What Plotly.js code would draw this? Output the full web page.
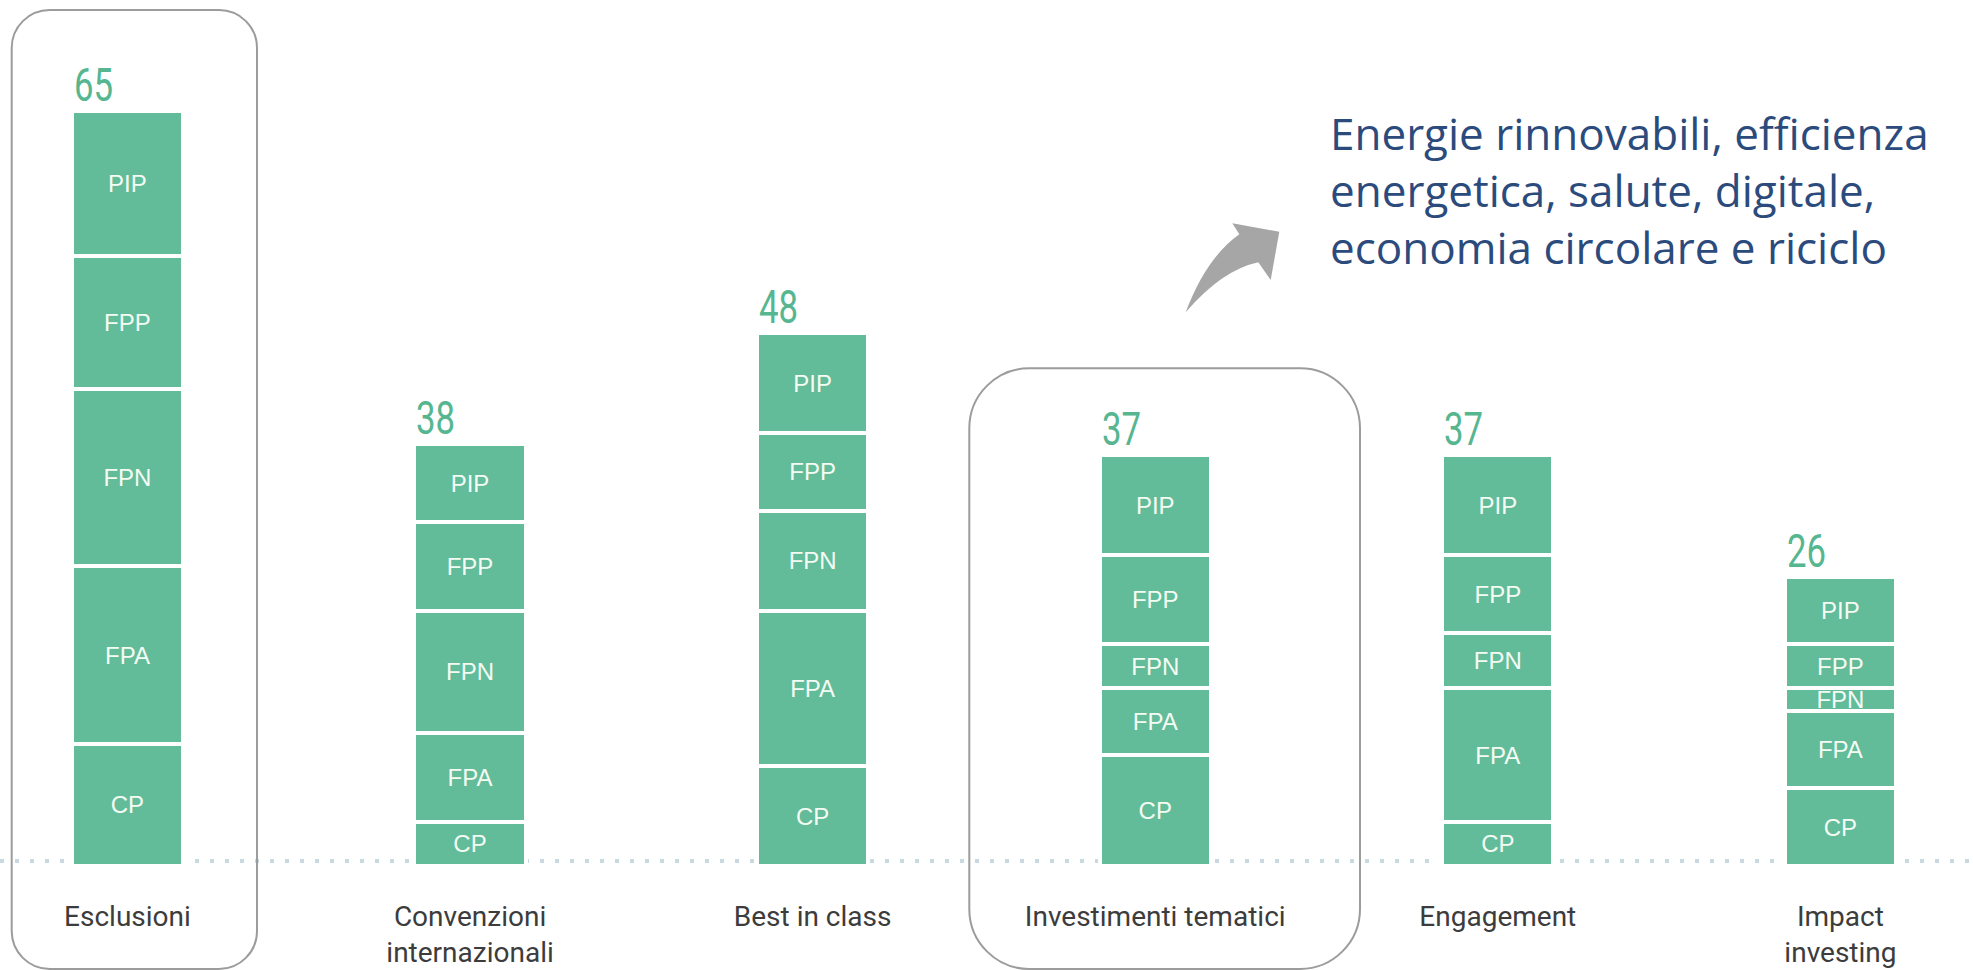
<!DOCTYPE html>
<html>
<head>
<meta charset="utf-8">
<script src="https://cdn.plot.ly/plotly-3.0.1.min.js"></script>
<style>
html, body { margin: 0; padding: 0; background: #ffffff; }
#chart { width: 1973px; height: 970px; }
</style>
</head>
<body>
<div id="chart"></div>
<script>
// ---- data ----
const categories = ['Esclusioni', 'Convenzioni<br>internazionali', 'Best in class', 'Investimenti tematici', 'Engagement', 'Impact<br>investing'];
const totals = [65, 38, 48, 37, 37, 26];
const CP  = [11, 4, 9, 10, 4, 7];
const FPA = [16, 8, 14, 6, 12, 7];
const FPN = [16, 11, 9, 4, 5, 2];
const FPP = [12, 8, 7, 8, 7, 4];
const PIP = [13, 7, 9, 9, 9, 6];
const seriesNames = ['CP', 'FPA', 'FPN', 'FPP', 'PIP'];
const noteText = 'Energie rinnovabili, efficienza<br>energetica, salute, digitale,<br>economia circolare e riciclo';

// ---- styling ----
const W = 1973, H = 970;
const MB = 100;                 // bottom margin
const plotH = H - MB;
const pxPerUnit = 11.1;
const basePx = 866;             // pixel row of value 0
const barWidth = 0.325;
const green = '#62bb99';

const seriesValues = {CP: CP, FPA: FPA, FPN: FPN, FPP: FPP, PIP: PIP};

const traces = seriesNames.map(function (name) {
  return {
    type: 'bar',
    name: name,
    x: categories,
    y: seriesValues[name],
    width: barWidth,
    text: categories.map(function () { return name; }),
    textposition: 'inside',
    insidetextanchor: 'middle',
    textangle: 0,
    constraintext: 'none',
    textfont: {family: '"Liberation Sans", Arial, sans-serif', size: 24, color: '#f4fbf3'},
    marker: {color: green, line: {color: '#ffffff', width: 4}},
    hoverinfo: 'skip',
    showlegend: false
  };
});

// stacked sums for positioning total labels
const stackSums = categories.map(function (c, i) {
  return seriesNames.reduce(function (s, n) { return s + seriesValues[n][i]; }, 0);
});

const annotations = categories.map(function (c, i) {
  return {
    x: i - barWidth / 2, y: stackSums[i], xref: 'x', yref: 'y',
    xanchor: 'left', yanchor: 'bottom', xshift: 0, yshift: -3,
    text: String(totals[i]), showarrow: false,
    font: {family: 'Roboto, sans-serif', size: 47, color: '#55b690'}
  };
});

annotations.push({
  xref: 'paper', yref: 'paper', x: 1328 / W, y: 1 - 101 / plotH,
  xanchor: 'left', yanchor: 'top', align: 'left', showarrow: false,
  text: noteText,
  font: {family: '"Open Sans", "Noto Sans", sans-serif', size: 44, color: '#2c4b7d'}
});

// pixel helpers for decorative shapes (anchored at the top-left corner, y measured downward)
function P(x, y) { return x.toFixed(1) + ',' + (-y).toFixed(1); }
function roundRect(x0, y0, x1, y1, r) {
  const k = 0.5523 * r;
  return 'M' + P(x0 + r, y0) + ' L' + P(x1 - r, y0) +
    ' C' + P(x1 - r + k, y0) + ' ' + P(x1, y0 + r - k) + ' ' + P(x1, y0 + r) +
    ' L' + P(x1, y1 - r) +
    ' C' + P(x1, y1 - r + k) + ' ' + P(x1 - r + k, y1) + ' ' + P(x1 - r, y1) +
    ' L' + P(x0 + r, y1) +
    ' C' + P(x0 + r - k, y1) + ' ' + P(x0, y1 - r + k) + ' ' + P(x0, y1 - r) +
    ' L' + P(x0, y0 + r) +
    ' C' + P(x0, y0 + r - k) + ' ' + P(x0 + r - k, y0) + ' ' + P(x0 + r, y0) + ' Z';
}
const pixelShape = {xref: 'paper', yref: 'paper', xsizemode: 'pixel', ysizemode: 'pixel', xanchor: 0, yanchor: 1};

const arrowPath = 'M' + P(1185.7, 312.3) + ' Q' + P(1206, 258) + ' ' + P(1239.3, 234.3) +
  ' L' + P(1232.3, 223.3) + ' L' + P(1279.3, 231.7) + ' L' + P(1270.7, 280) + ' L' + P(1258.3, 262.3) +
  ' Q' + P(1222, 270) + ' ' + P(1185.7, 312.3) + ' Z';

const shapes = [
  {type: 'line', xref: 'paper', x0: 0, x1: 1, yref: 'y', ysizemode: 'pixel', yanchor: 0, y0: 5, y1: 5,
   layer: 'below', line: {color: '#c8d9df', width: 4, dash: '4px,11px'}},
  Object.assign({type: 'path', path: roundRect(11.7, 10, 257, 969, 38), line: {color: '#9c9c9c', width: 2}, fillcolor: 'rgba(0,0,0,0)'}, pixelShape),
  Object.assign({type: 'path', path: roundRect(969.3, 368.3, 1360, 969, 60), line: {color: '#9c9c9c', width: 2}, fillcolor: 'rgba(0,0,0,0)'}, pixelShape),
  Object.assign({type: 'path', path: arrowPath, line: {width: 0}, fillcolor: '#a6a6a6'}, pixelShape)
];

const layout = {
  width: W, height: H,
  margin: {l: 0, r: 0, t: 0, b: MB, pad: 0},
  paper_bgcolor: '#ffffff', plot_bgcolor: '#ffffff',
  barmode: 'stack',
  font: {family: 'Roboto, Arial, sans-serif'},
  xaxis: {
    type: 'category', range: [-0.372, 5.387],
    showgrid: false, zeroline: false, showline: false, ticks: '',
    ticklabelstandoff: 27,
    tickfont: {family: 'Roboto, Arial, sans-serif', size: 28, color: '#3c3c3c'},
    fixedrange: true
  },
  yaxis: {
    range: [-(plotH - basePx) / pxPerUnit, basePx / pxPerUnit],
    visible: false, showgrid: false, zeroline: false, fixedrange: true
  },
  annotations: annotations,
  shapes: shapes,
  showlegend: false
};

Plotly.newPlot('chart', traces, layout, {displayModeBar: false, staticPlot: true}).then(function (gd) {
  // condensed look for the total labels: narrow them horizontally around their left edge
  const sx = 0.74;
  gd.querySelectorAll('.annotation-text').forEach(function (t) {
    if (!/^\d+$/.test(t.textContent.trim())) return;
    const bb = t.getBBox();
    const x0 = bb.x;
    const m = 'matrix(' + sx + ',0,0,1,' + (x0 * (1 - sx)).toFixed(2) + ',0)';
    const ex = t.getAttribute('transform') || '';
    t.setAttribute('transform', (ex + ' ' + m).trim());
  });
});
</script>
</body>
</html>
